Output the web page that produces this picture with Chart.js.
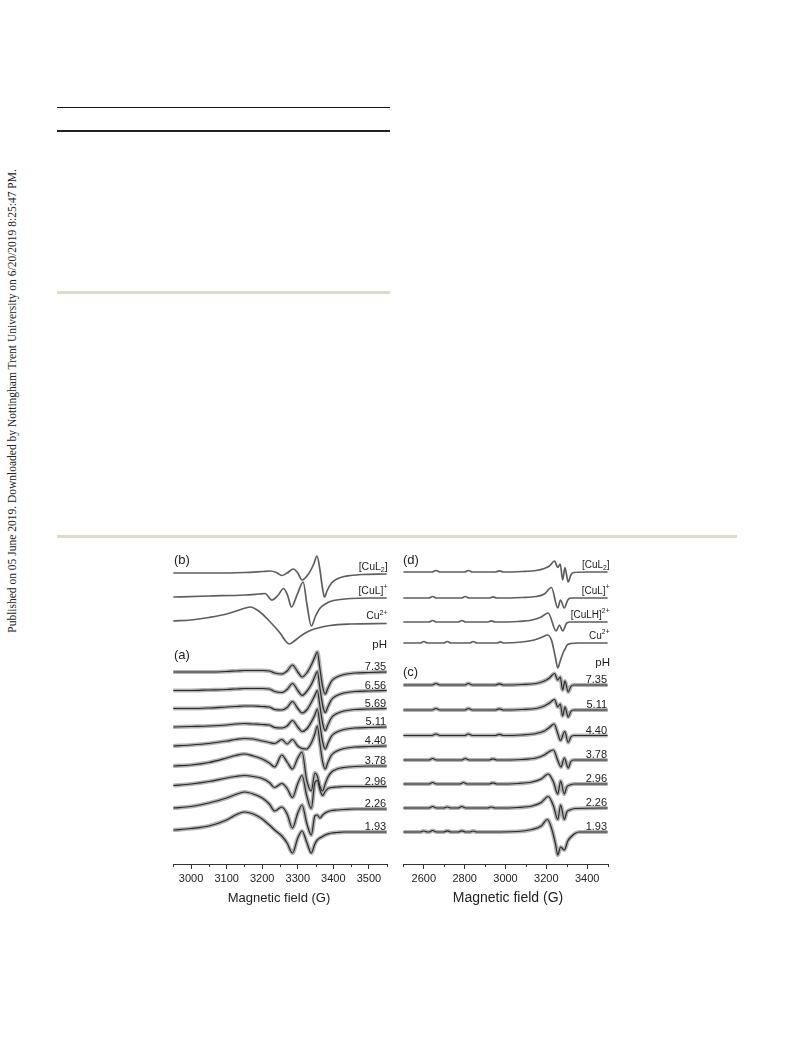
<!DOCTYPE html>
<html><head><meta charset="utf-8">
<script src="https://cdn.jsdelivr.net/npm/chart.js@4.4.1/dist/chart.umd.min.js"></script>
<style>
html,body{margin:0;padding:0;background:#fff;}
body{width:793px;height:1039px;position:relative;overflow:hidden;font-family:'Liberation Sans',Arial,sans-serif;color:#222;}
.abs{position:absolute;white-space:nowrap;line-height:1;}
.rule{position:absolute;}
canvas{position:absolute;}
</style></head><body>
<div class="rule" style="left:57px;top:107px;width:333px;height:1px;background:#111"></div>
<div class="rule" style="left:57px;top:130px;width:333px;height:2px;background:#222"></div>
<div class="rule" style="left:57px;top:291px;width:333px;height:2.5px;background:#dddacb"></div>
<div class="rule" style="left:57px;top:535px;width:680px;height:2.5px;background:#dddacb"></div>
<div class="abs" style="left:12px;top:401px;transform:translate(-50%,-50%) rotate(-90deg);font:11.5px 'Liberation Serif','Times New Roman',serif;color:#222">Published on 05 June 2019. Downloaded by Nottingham Trent University on 6/20/2019 8:25:47 PM.</div>

<canvas id="left" width="240" height="360" style="left:160px;top:540px"></canvas>
<canvas id="right" width="230" height="360" style="left:395px;top:540px"></canvas>

<div class="abs" style="left:174px;top:553px;font-size:13px">(b)</div>
<div class="abs" style="left:174px;top:648px;font-size:13px">(a)</div>
<div class="abs" style="left:387px;top:645px;transform:translate(-100%,-50%);font-size:11.5px">pH</div>
<div class="abs" style="left:403px;top:553px;font-size:13px">(d)</div>
<div class="abs" style="left:403px;top:665px;font-size:13px">(c)</div>
<div class="abs" style="left:610px;top:663px;transform:translate(-100%,-50%);font-size:11.5px">pH</div>
<div class="abs" style="left:279px;top:897px;transform:translate(-50%,-50%);font-size:13px">Magnetic field (G)</div>
<div class="abs" style="left:508px;top:897px;transform:translate(-50%,-50%);font-size:14px">Magnetic field (G)</div>

<script>
// ===================== LEFT PANEL (a), (b) =====================
const ticksA = [3000, 3100, 3200, 3300, 3400, 3500];
const minorA = [2950, 3050, 3150, 3250, 3350, 3450, 3550];

// (b) reference spectra: [field (G), signal]
const bCuL2 = [[2950,0],[3050,0],[3150,0.5],[3200,1.5],[3222,2],[3240,0.5],[3255,-2.5],[3270,0],[3288,4],[3300,0],[3312,-7],[3330,-1],[3345,9],[3354,17],[3362,4],[3369,-14],[3375,-24],[3382,-18],[3395,-10],[3410,-6],[3430,-3.5],[3448,-2.5],[3480,-1.5],[3550,-1]];
const bCuL  = [[2950,0],[3050,1],[3150,2],[3190,3],[3208,3.5],[3227,-3],[3245,2],[3260,8.5],[3272,1],[3282,-10],[3300,4],[3315,15],[3326,-8],[3338,-29],[3350,-19],[3363,-11],[3380,-6.5],[3391,-4.5],[3420,-2.5],[3448,-1.5],[3500,-1],[3550,-1]];
const bCu   = [[2950,0],[3000,1],[3050,3.5],[3100,7],[3140,11.5],[3166,14],[3190,10],[3220,0],[3250,-12],[3268,-21],[3276,-23],[3290,-20],[3310,-14.5],[3335,-9.5],[3391,-4.5],[3448,-3],[3550,-2.5]];
const offsetB = [291, 267, 243];
const speciesB = [[['[CuL',0],['2',-1],[']',0]], [['[CuL]',0],['+',1]], [['Cu',0],['2+',1]]];

// (a) pH series on a common field grid
const fieldA = [2950,3000,3050,3100,3125,3150,3175,3200,3220,3235,3255,3270,3285,3300,3312,3325,3338,3348,3355,3362,3370,3377,3385,3395,3410,3430,3460,3500,3550];
const pHa = ['7.35','6.56','5.69','5.11','4.40','3.78','2.96','2.26','1.93'];
const a735 = [0,0,0,0.5,1,1.5,1.5,1.5,1,-1,-2,1,7,0,-5,-1,7,15,20,4,-15,-22,-16,-9,-5,-2.5,-1,-0.5,0];
const a656 = [0,0,0.5,1,1.5,2,2,2,1.5,-1,-2,1,7,0,-5,-1,6,14,19,3,-15,-22,-16,-9,-5,-2.5,-1,-0.5,0];
const a569 = [0,0,0.5,1.5,2,2.5,2.5,2,1.5,-1,-1.5,1,7,0,-4.5,-1.5,6,13,18,3,-15,-22,-16,-9,-5,-2.5,-1,-0.5,0];
const a511 = [0,0.5,1,2,3,3.5,3,2.5,2,-0.5,-1,1,6.5,0,-4.5,-2,5,12,18,3,-15,-22,-16,-9,-5,-2.5,-1,-0.5,0];
const a440 = [0,1,2.5,5,6.5,7.5,7,5,3.5,2.5,6.5,2,6.5,0,-2.5,-3,3,12,20,3,-16,-23,-16,-9,-5,-2.5,-1,-0.5,0];
const a378 = [0,1,3.5,8,10.5,12,10,7,3,-1,11,4,-3,8,14,-14,-25,-7,-10,-20,-25,-18,-11,-6,-3,-1.5,-0.5,0,0];
const a296 = [0,1.5,4,7.5,9,10,9,7,3,-2,2,-3,-12,2,10,-10,-23,3,5,-4,-10,-6,-3,-2,-1.5,-1,-1,-1,-1];
const a226 = [0,1.5,5,10,13.5,16,14,10,4,-3,1,-6,-20,-5,3,-15,-27,-8,-7,-10,-7,-5,-3.5,-2.5,-2,-1.5,-1,-1,-1];
const a193 = [0,1.5,4,10,15,18,16,11,5,0,-6,-13,-23,-8,-1,-12,-23,-14,-10,-8,-6.5,-5,-4,-3,-2.5,-2,-2,-2,-2];
const offsetA = [192, 173.5, 155.5, 137, 118, 98, 78.5, 56, 34];

// ===================== RIGHT PANEL (c), (d) =====================
const ticksC = [2600, 2800, 3000, 3200, 3400];
const minorC = [2500, 2700, 2900, 3100, 3300, 3500];

const dCuL2 = [[2500,0],[2640,0],[2659,1.5],[2680,0],[2800,0],[2818,1.5],[2838,0],[2950,0],[2970,1.2],[2990,0],[3080,0.5],[3150,1.5],[3190,3.5],[3215,6],[3240,11],[3256,4.5],[3268,8],[3280,-8],[3291,4.5],[3307,-10],[3320,-3],[3335,-0.5],[3400,0],[3500,0]];
const dCuL  = [[2500,0],[2625,0],[2643,1.5],[2662,0],[2785,0],[2803,1.5],[2822,0],[2920,0],[2938,1.2],[2958,0],[3080,0.5],[3150,1.5],[3190,4],[3225,10.5],[3256,-10],[3269,-2],[3288,-10],[3305,-2],[3320,0],[3400,0],[3500,0]];
const dCuLH = [[2500,0],[2625,0],[2643,1.5],[2662,0],[2768,0],[2786,1.5],[2805,0],[2912,0],[2930,1.2],[2950,0],[3060,0.5],[3130,2],[3175,5],[3209,9],[3248,-9],[3264,-3],[3280,-9],[3300,-1],[3320,0],[3400,0],[3500,0]];
const dCu   = [[2500,0],[2582,0],[2600,1.5],[2618,0],[2697,0],[2715,1.5],[2733,0],[2824,0],[2842,1.5],[2860,0],[2957,0],[2975,1.2],[2993,0],[3080,1],[3140,3],[3180,6],[3205,8],[3225,3],[3245,-15],[3256,-25],[3268,-18],[3278,-12],[3286,-8],[3292,-6],[3300,-2.5],[3320,-0.5],[3360,0],[3500,0]];
const offsetD = [292, 266, 242, 221];
const speciesD = [[['[CuL',0],['2',-1],[']',0]], [['[CuL]',0],['+',1]], [['[CuLH]',0],['2+',1]], [['Cu',0],['2+',1]]];

const pHc = ['7.35','5.11','4.40','3.78','2.96','2.26','1.93'];
const c735 = [[2500,0],[2640,0],[2659,1.5],[2680,0],[2800,0],[2818,1.5],[2838,0],[2950,0],[2970,1.2],[2990,0],[3080,0.5],[3150,1.5],[3190,4],[3215,7],[3240,11.5],[3256,5],[3268,8],[3280,-5],[3291,4],[3307,-7],[3320,-1.5],[3335,0],[3500,0]];
const c511 = [[2500,0],[2640,0],[2659,1.5],[2680,0],[2800,0],[2818,1.5],[2838,0],[2950,0],[2970,1.2],[2990,0],[3080,0.5],[3150,1.5],[3190,4],[3215,7],[3240,10.5],[3256,3],[3268,6],[3280,-6],[3291,3],[3307,-7],[3320,-1.5],[3335,0],[3500,0]];
const c440 = [[2500,0],[2640,0],[2659,1.5],[2680,0],[2800,0],[2818,1.5],[2838,0],[2950,0],[2970,1.2],[2990,0],[3080,0.5],[3150,2],[3190,4.5],[3215,8],[3238,11.5],[3256,2],[3269,-5],[3290,4],[3307,-7],[3320,-1.5],[3335,0],[3500,0]];
const c378 = [[2500,0],[2625,0],[2643,1.5],[2662,0],[2785,0],[2803,1.5],[2822,0],[2920,0],[2938,1.2],[2958,0],[3080,0.5],[3150,2],[3190,5],[3215,8.5],[3235,10],[3255,0],[3272,-7],[3288,2],[3307,-8],[3320,-1.5],[3335,0],[3500,0]];
const c296 = [[2500,0],[2625,0],[2643,1.5],[2662,0],[2776,0],[2794,1.5],[2812,0],[2920,0],[2938,1.2],[2958,0],[3060,0.5],[3130,2],[3175,5],[3209,10],[3235,2],[3256,-10],[3270,3],[3288,-10],[3300,-3],[3315,-1],[3340,0],[3500,0]];
const c226 = [[2500,0],[2625,0],[2643,1.5],[2662,0],[2697,0],[2715,1],[2733,0],[2768,0],[2786,1.5],[2805,0],[2912,0],[2930,1],[2950,0],[3060,0.5],[3130,2],[3175,5.5],[3209,11.5],[3235,2],[3256,-11.5],[3270,3],[3288,-11.5],[3300,-4],[3315,-2],[3340,-0.5],[3500,0]];
const c193 = [[2500,0],[2582,0],[2600,1],[2618,0],[2625,0],[2643,1.5],[2662,0],[2697,0],[2715,1.2],[2733,0],[2768,0],[2786,1.2],[2805,0],[2824,0],[2842,1],[2860,0],[3060,0.5],[3130,2.5],[3175,6],[3205,12.5],[3225,4],[3245,-12],[3256,-23],[3270,-15],[3288,-18],[3305,-9],[3320,-5],[3340,-1.5],[3360,0],[3500,0]];
const offsetC = [179, 154, 128.5, 104, 80, 56, 32];

// ===================== rendering =====================
const FONT = "'Liberation Sans', Arial, sans-serif";
function fromPairs(arr, off) { return arr.map(p => ({x: p[0], y: p[1] + off})); }
function fromGrid(xs, ys, off) { return xs.map((x, i) => ({x: x, y: ys[i] + off})); }

function drawRich(ctx, parts, xRight, y, size) {
  const small = size * 0.68;
  let total = 0;
  parts.forEach(p => { ctx.font = (p[1] ? small : size) + 'px ' + FONT; total += ctx.measureText(p[0]).width; });
  let x = xRight - total;
  parts.forEach(p => {
    ctx.font = (p[1] ? small : size) + 'px ' + FONT;
    const dy = p[1] === -1 ? size * 0.28 : (p[1] === 1 ? -size * 0.42 : 0);
    ctx.fillText(p[0], x, y + dy);
    x += ctx.measureText(p[0]).width;
  });
}

function makePanel(id, cfg) {
  const datasets = [];
  cfg.refs.forEach((arr, i) => datasets.push({data: fromPairs(arr, cfg.refOff[i]), borderColor: '#5e5e5e', borderWidth: 1.7, order: 1}));
  cfg.series.forEach((arr, i) => {
    const d = cfg.grid ? fromGrid(cfg.grid, arr, cfg.serOff[i]) : fromPairs(arr, cfg.serOff[i]);
    datasets.push({data: d, borderColor: '#b3b3b3', borderWidth: 4.2, order: 3});
    datasets.push({data: d, borderColor: '#2a2a2a', borderWidth: 1.2, order: 2});
  });
  datasets.forEach(ds => { ds.showLine = true; ds.pointRadius = 0; ds.fill = false; ds.cubicInterpolationMode = 'monotone'; ds.borderJoinStyle = 'round'; ds.borderCapStyle = 'round'; });

  const labelPlugin = {
    id: 'traceLabels_' + id,
    afterDatasetsDraw(chart) {
      const ctx = chart.ctx, ys = chart.scales.y, xs = chart.scales.x, ca = chart.chartArea;
      ctx.save();
      ctx.fillStyle = '#222';
      ctx.textBaseline = 'alphabetic';
      ctx.textAlign = 'left';
      cfg.refs.forEach((arr, i) => {
        const v = cfg.refOff[i] + arr[arr.length - 1][1];
        drawRich(ctx, cfg.species[i], ca.right + cfg.spDx, ys.getPixelForValue(v) - cfg.spDy, cfg.spSize);
      });
      cfg.series.forEach((arr, i) => {
        const last = cfg.grid ? arr[arr.length - 1] : arr[arr.length - 1][1];
        const v = cfg.serOff[i] + last;
        drawRich(ctx, [[cfg.pH[i], 0]], ca.right - 0.5, ys.getPixelForValue(v) - 2, 11);
      });
      // minor ticks
      ctx.strokeStyle = '#333'; ctx.lineWidth = 1;
      cfg.minor.forEach(val => {
        const x = Math.round(xs.getPixelForValue(val)) + 0.5;
        ctx.beginPath(); ctx.moveTo(x, ca.bottom); ctx.lineTo(x, ca.bottom + 3); ctx.stroke();
      });
      ctx.restore();
    }
  };

  const canvas = document.getElementById(id);
  const H = canvas.height;
  const tickLen = 5, tickPad = 3, lh = 11 * 1.2;
  const padBottom = H - 324 - (tickLen + lh + 2 * tickPad);
  new Chart(canvas, {
    type: 'scatter',
    data: {datasets: datasets},
    options: {
      responsive: false, animation: false, devicePixelRatio: 1,
      layout: {padding: {left: cfg.padL, right: cfg.padR, top: 5, bottom: padBottom}},
      plugins: {legend: {display: false}, tooltip: {enabled: false}},
      scales: {
        x: {
          type: 'linear', min: cfg.min, max: cfg.max,
          afterBuildTicks: ax => { ax.ticks = cfg.ticks.map(v => ({value: v})); },
          ticks: {autoSkip: false, maxRotation: 0, padding: tickPad, color: '#222', font: {family: FONT, size: 11}, callback: v => String(v)},
          grid: {display: true, drawOnChartArea: false, drawTicks: true, tickLength: tickLen, color: '#333', lineWidth: 1},
          border: {display: true, color: '#333', width: 1}
        },
        y: {display: false, min: 0, max: 319}
      }
    },
    plugins: [labelPlugin]
  });
}

makePanel('left', {
  min: 2950, max: 3550, ticks: ticksA, minor: minorA, padL: 13.3, padR: 13.3,
  refs: [bCuL2, bCuL, bCu], refOff: offsetB, species: speciesB, spDx: 1, spDy: 4.5, spSize: 10.5,
  grid: fieldA, series: [a735, a656, a569, a511, a440, a378, a296, a226, a193], serOff: offsetA, pH: pHa
});
makePanel('right', {
  min: 2500, max: 3500, ticks: ticksC, minor: minorC, padL: 8.4, padR: 17.4,
  refs: [dCuL2, dCuL, dCuLH, dCu], refOff: offsetD, species: speciesD, spDx: 2, spDy: 4.5, spSize: 10,
  grid: null, series: [c735, c511, c440, c378, c296, c226, c193], serOff: offsetC, pH: pHc
});
</script>
</body></html>
